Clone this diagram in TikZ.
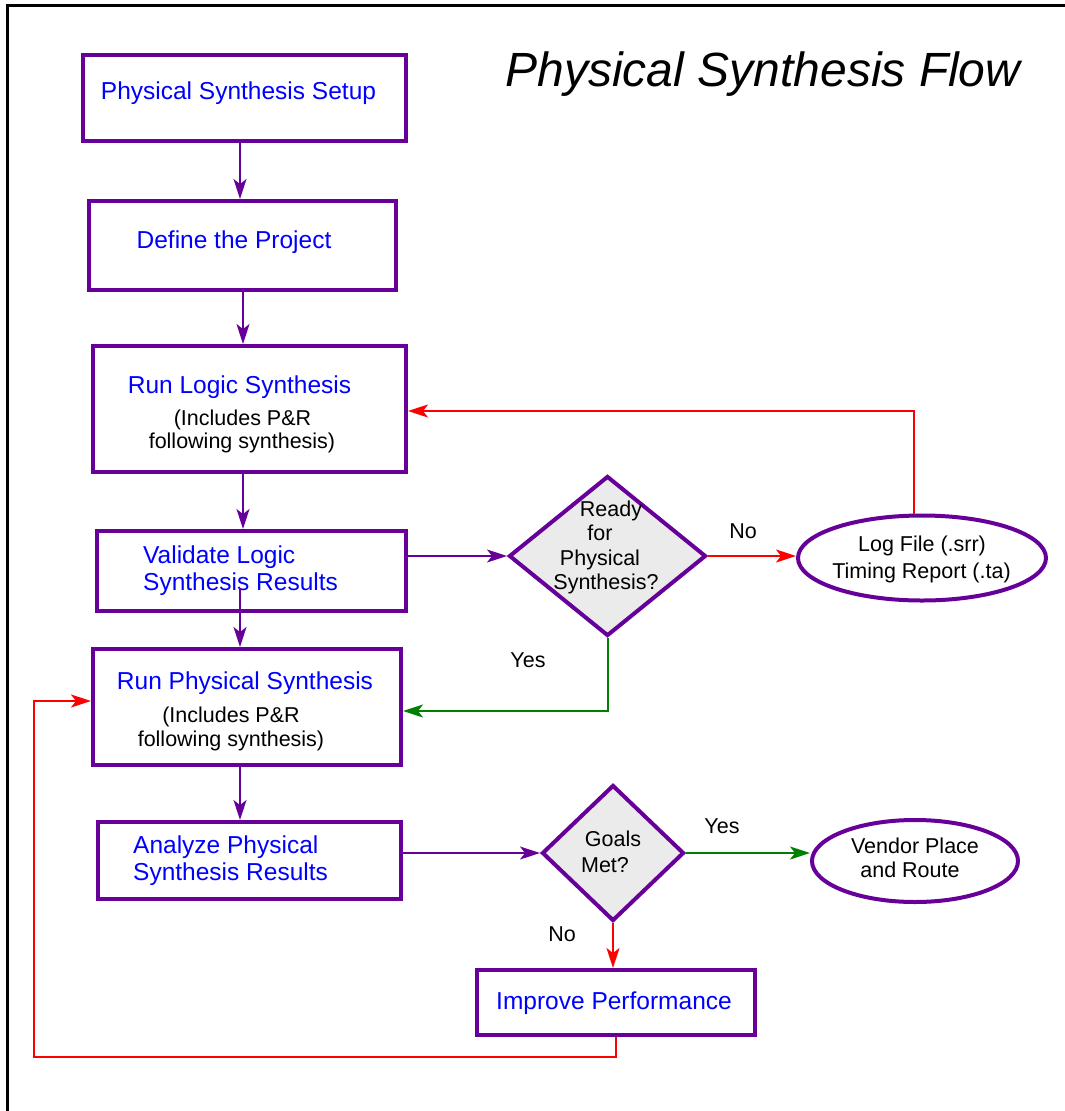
\documentclass[tikz,border=0pt]{standalone}
\usepackage{fontspec}
\setmainfont{Liberation Sans}
\usetikzlibrary{arrows.meta,shapes.geometric,calc}

\definecolor{boxpurple}{HTML}{660099}
\definecolor{stepblue}{HTML}{0000FF}
\definecolor{loopred}{HTML}{FF0000}
\definecolor{okgreen}{HTML}{008000}
\definecolor{decfill}{HTML}{EBEBEB}

\tikzset{
  stepbox/.style={draw=boxpurple, line width=4pt, rectangle, inner sep=0pt},
  decision/.style={draw=boxpurple, line width=4pt, diamond, fill=decfill, inner sep=0pt},
  result/.style={draw=boxpurple, line width=4pt, ellipse, inner sep=0pt},
  steptext/.style={text=stepblue, font=\fontsize{24.5}{29}\selectfont, inner sep=0pt, anchor=base},
  plaintext/.style={text=black, font=\fontsize{21.5}{25}\selectfont, inner sep=0pt, anchor=base},
  tip/.style={-{Stealth[length=20pt,width=13pt,inset=5pt]}},
  flow/.style={tip, draw=boxpurple, line width=1.4pt},
  retry/.style={tip, draw=loopred, line width=2pt},
  accept/.style={tip, draw=okgreen, line width=2pt},
}

\begin{document}
\begin{tikzpicture}[x=1pt, y=-1pt]
\useasboundingbox (0,0) rectangle (1065,1111);

% frame
\draw[line width=3pt] (7,1111) -- (7,5) -- (1065,5);

% title
\node[font=\fontsize{48}{56}\selectfont\itshape, inner sep=0pt, anchor=base] (title) at (763,86) {Physical Synthesis Flow};

% process boxes
\node[stepbox, minimum width=323pt, minimum height=86pt]  (b1) at (244.5,98)   {};
\node[stepbox, minimum width=307pt, minimum height=89pt]  (b2) at (242.5,245.5) {};
\node[stepbox, minimum width=313pt, minimum height=126pt] (b3) at (249.5,409)  {};
\node[stepbox, minimum width=309pt, minimum height=80pt]  (b4) at (251.5,571)  {};
\node[stepbox, minimum width=308pt, minimum height=116pt] (b5) at (247,707)    {};
\node[stepbox, minimum width=303pt, minimum height=77pt]  (b6) at (249.5,860.5) {};
\node[stepbox, minimum width=278pt, minimum height=65pt]  (b7) at (616,1002.5) {};

% box texts
\node[steptext] (t1) at (238.5,99) {Physical Synthesis Setup};
\node[steptext] (t2) at (234,248) {Define the Project};
\node[steptext] (t3) at (239.5,393) {Run Logic Synthesis};
\node[plaintext] (t3a) at (242.5,425) {(Includes P\&R};
\node[plaintext] (t3b) at (242,448) {following synthesis)};
\node[steptext, anchor=base west] (t4) at (143,563) {Validate Logic};
\node[steptext, anchor=base west] (t4b) at (143,590) {Synthesis Results};
\node[steptext] (t5) at (245,689) {Run Physical Synthesis};
\node[plaintext] (t5a) at (231,722) {(Includes P\&R};
\node[plaintext] (t5b) at (231,746) {following synthesis)};
\node[steptext, anchor=base west] (t6) at (133,853) {Analyze Physical};
\node[steptext, anchor=base west] (t6b) at (133,880) {Synthesis Results};
\node[steptext] (t7) at (614,1009) {Improve Performance};

% decisions
\node[decision, minimum width=197pt, minimum height=160pt] (d1) at (607.5,556) {};
\node[plaintext] (d1a) at (611,516) {Ready};
\node[plaintext] (d1b) at (600,540) {for};
\node[plaintext] (d1c) at (600,565) {Physical};
\node[plaintext] (d1d) at (606,589) {Synthesis?};

\node[decision, minimum width=142pt, minimum height=136pt] (d2) at (613,853) {};
\node[plaintext] (d2a) at (613,846) {Goals};
\node[plaintext] (d2b) at (605,872) {Met?};

% outcomes
\node[result, minimum width=248pt, minimum height=85pt] (e1) at (922,558) {};
\node[plaintext] (e1a) at (922,551) {Log File (.srr)};
\node[plaintext] (e1b) at (921.5,578) {Timing Report (.ta)};

\node[result, minimum width=206pt, minimum height=82pt] (e2) at (915,861) {};
\node[plaintext] (e2a) at (915,853) {Vendor Place};
\node[plaintext] (e2b) at (910,877) {and Route};

% branch labels
\node[plaintext] (no1)  at (743,538) {No};
\node[plaintext] (yes1) at (528,667) {Yes};
\node[plaintext] (yes2) at (722,833) {Yes};
\node[plaintext] (no2)  at (562,941) {No};

% main flow
\draw[flow] (240,0 |- b1.south) -- (240,0 |- b2.north);
\draw[flow] (243,0 |- b2.south) -- (243,0 |- b3.north);
\draw[flow] (243,0 |- b3.south) -- (243,0 |- b4.north);
\coordinate (b4out) at (240,588);
\draw[flow] (b4out) -- (b4out |- b5.north);
\draw[flow] (240,0 |- b5.south) -- (240,0 |- b6.north);
\draw[flow] (b4.east |- d1.west) -- (d1.west);
\draw[flow] (b6.east |- d2.west) -- (d2.west);

% decision branches
\draw[retry] (d1.east) -- (d1.east -| e1.west);
\draw[retry] ([xshift=-8pt]e1.north) |- (b3.east |- 0,411);
\draw[accept] (d1.south) |- (b5.east |- 0,711);
\draw[accept] (d2.east) -- (d2.east -| e2.west);
\draw[retry] (d2.south) -- (d2.south |- b7.north);

% loop back from improvement
\coordinate (loopcorner) at (34,1057);
\draw[retry] (b7.south) |- (loopcorner) |- (b5.west |- 0,701);
\end{tikzpicture}
\end{document}
